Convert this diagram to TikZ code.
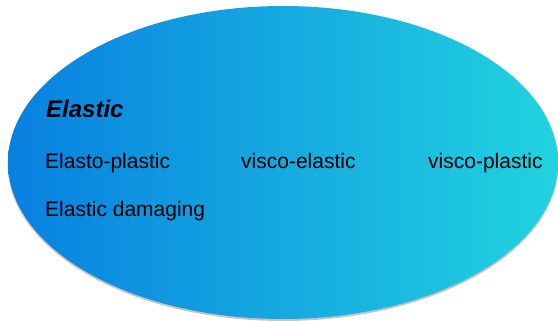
\documentclass[tikz,border=0pt]{standalone}
\usepackage{fontspec}
\setmainfont{Liberation Sans}
\usetikzlibrary{shapes.geometric}
\definecolor{ovalleft}{HTML}{0880E0}
\definecolor{ovalright}{HTML}{22D3E0}
\tikzset{
  oval/.style={ellipse, inner sep=0pt, minimum width=550pt, minimum height=313pt,
    left color=ovalleft, right color=ovalright, draw=none},
  ovalshadow/.style={ellipse, inner sep=0pt, minimum width=551pt, minimum height=314pt,
    fill=black!45, draw=none, opacity=0.5},
  label/.style={anchor=base west, inner sep=0pt, text=black, font=\fontsize{21}{25}\selectfont},
  title/.style={anchor=base west, inner sep=0pt, text=black, font=\fontsize{24}{28}\selectfont\bfseries\itshape}
}
\begin{document}
\begin{tikzpicture}
\useasboundingbox (0,0) rectangle (558pt,321pt);
\node[ovalshadow] (shadow) at (283pt,157pt) {};
\node[oval] (oval) at (283pt,158.5pt) {};
\node[title] (elastic) at (46pt,203pt) {Elastic};
\node[label] (elastoplastic) at (45pt,152pt) {Elasto-plastic};
\node[label] (viscoelastic) at (241pt,152pt) {visco-elastic};
\node[label] (viscoplastic) at (428pt,152pt) {visco-plastic};
\node[label] (damaging) at (45pt,104pt) {Elastic damaging};
\end{tikzpicture}
\end{document}
